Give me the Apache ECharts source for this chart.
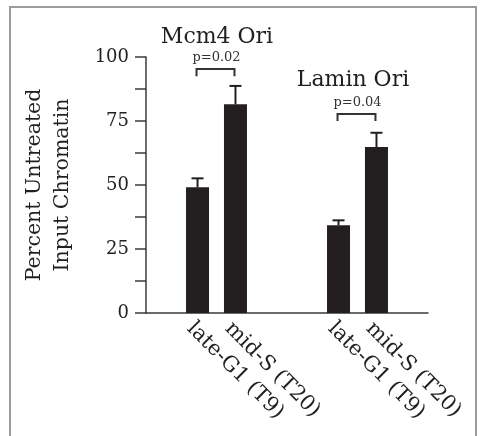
<!DOCTYPE html>
<html>
<head>
<meta charset="utf-8">
<script src="https://cdn.jsdelivr.net/npm/echarts@6/dist/echarts.min.js"></script>
<style>
html,body{margin:0;padding:0;background:#fff;}
#frame{position:absolute;left:9px;top:6px;width:464px;height:440px;border:2px solid #9c9c9c;box-sizing:content-box;}
#chart{position:absolute;left:0;top:0;width:480px;height:436px;}
</style>
</head>
<body>
<div id="frame"></div>
<div id="chart"></div>
<script>
// ---- data ----
var groups = ['Mcm4 Ori', 'Lamin Ori'];
var conditions = ['late-G1 (T9)', 'mid-S (T20)'];
var lateG1 = [49.1, 34.3];
var midS = [81.5, 64.8];
var lateG1Err = [3.5, 1.9];
var midSErr = [7.2, 5.6];
var pLabels = ['p=0.02', 'p=0.04'];
var bracketTop = [95.3, 77.7];
var bracketLeg = [92.5, 75.0];
var yTickLabels = [0, 25, 50, 75, 100];

// ---- layout/style ----
var FONT = 'DejaVu Serif';
var INK = '#231f20';
var AXIS = '#3a3a3a';
var BAR_W = 23;
var BAR_GAP = 0.65;
var HALF = (BAR_W + BAR_W * BAR_GAP) / 2;

var chart = echarts.init(document.getElementById('chart'), null, {renderer: 'canvas'});

var errData = [];
for (var g = 0; g < groups.length; g++) {
  errData.push([g, lateG1[g], lateG1[g] + lateG1Err[g], -1]);
  errData.push([g, midS[g], midS[g] + midSErr[g], 1]);
}
var brData = [];
for (var g2 = 0; g2 < groups.length; g2++) {
  brData.push([g2, bracketLeg[g2], bracketTop[g2], pLabels[g2]]);
}

var barLabel = {
  show: true,
  position: 'bottom',
  distance: 5,
  formatter: '{a}',
  rotate: -45,
  align: 'left',
  verticalAlign: 'middle',
  offset: [0, 10.5],
  fontFamily: FONT,
  fontSize: 21,
  color: INK
};

var option = {
  animation: false,
  title: [
    {text: groups[0], left: 212, top: 21, textAlign: 'center',
     textStyle: {fontFamily: FONT, fontSize: 22, fontWeight: 'normal', color: INK}},
    {text: groups[1], left: 348, top: 64, textAlign: 'center',
     textStyle: {fontFamily: FONT, fontSize: 22, fontWeight: 'normal', color: INK}}
  ],
  grid: {left: 146, right: 52, top: 57, bottom: 123, containLabel: false},
  xAxis: {
    type: 'category',
    data: groups,
    axisLine: {lineStyle: {color: AXIS, width: 1.5}},
    axisTick: {show: false},
    axisLabel: {show: false},
    splitLine: {show: false}
  },
  yAxis: {
    type: 'value',
    min: 0, max: 100, interval: 12.5,
    name: 'Percent Untreated\nInput Chromatin',
    nameLocation: 'middle',
    nameGap: 69,
    nameTextStyle: {fontFamily: FONT, fontSize: 20.5, color: INK, lineHeight: 28},
    axisLine: {show: true, lineStyle: {color: AXIS, width: 1.5}},
    axisTick: {show: true, length: 11, lineStyle: {color: AXIS, width: 1.5}},
    axisLabel: {
      margin: 17,
      fontFamily: FONT, fontSize: 18, color: INK,
      formatter: function (v) { return yTickLabels.indexOf(v) >= 0 ? String(v) : ''; }
    },
    splitLine: {show: false}
  },
  series: [
    {name: conditions[0], type: 'bar', data: lateG1, barWidth: BAR_W, barGap: (BAR_GAP * 100) + '%',
     itemStyle: {color: INK}, label: barLabel},
    {name: conditions[1], type: 'bar', data: midS, barWidth: BAR_W, barGap: (BAR_GAP * 100) + '%',
     itemStyle: {color: INK}, label: barLabel},
    {
      type: 'custom', data: errData, clip: false, z: 5,
      renderItem: function (params, api) {
        var x = api.coord([api.value(0), 0])[0] + api.value(3) * HALF;
        var yTop = api.coord([api.value(0), api.value(1)])[1];
        var yErr = api.coord([api.value(0), api.value(2)])[1];
        var st = {stroke: INK, lineWidth: 2, fill: null};
        return {type: 'group', children: [
          {type: 'line', shape: {x1: x, y1: yTop, x2: x, y2: yErr}, style: st},
          {type: 'line', shape: {x1: x - 6, y1: yErr, x2: x + 6, y2: yErr}, style: st}
        ]};
      }
    },
    {
      type: 'custom', data: brData, clip: false, z: 5,
      renderItem: function (params, api) {
        var cx = api.coord([api.value(0), 0])[0];
        var x1 = cx - HALF - 1, x2 = cx + HALF - 1;
        var yLeg = api.coord([api.value(0), api.value(1)])[1];
        var yTop = api.coord([api.value(0), api.value(2)])[1];
        var st = {stroke: '#333', lineWidth: 2, fill: null};
        return {type: 'group', children: [
          {type: 'polyline', shape: {points: [[x1, yLeg], [x1, yTop], [x2, yTop], [x2, yLeg]]}, style: st},
          {type: 'text', x: cx, y: yTop - 5,
           style: {text: brData[params.dataIndex][3], fontFamily: FONT, fontSize: 13, fill: '#333',
                   align: 'center', verticalAlign: 'bottom'}}
        ]};
      }
    }
  ]
};
chart.setOption(option);
</script>
</body>
</html>
